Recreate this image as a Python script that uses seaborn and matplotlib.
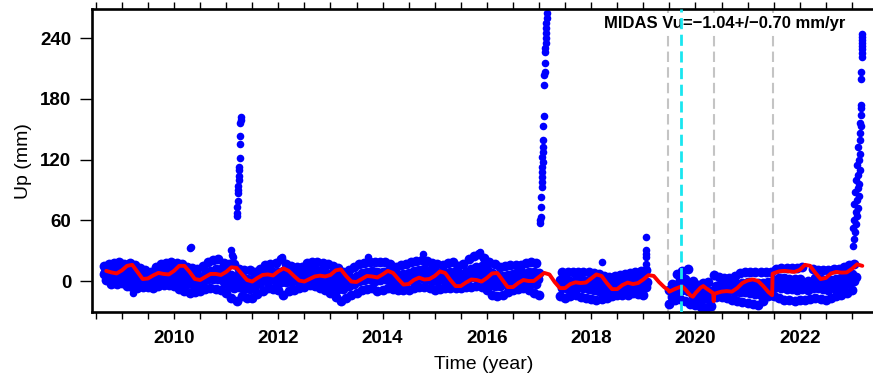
import numpy as np
import pandas as pd
import matplotlib
matplotlib.use("Agg")
import matplotlib.pyplot as plt
from matplotlib.ticker import MultipleLocator
import seaborn as sns

nan = np.nan

# Эпохи полосы: шаг 0.1 года от 2008.65 (ряды hi/ml), со сдвигом +0.05 (mh/lo), +0.025 (mid)
band_start = 2008.65

up_hi = [
    15, 17, 18, 19,                              # 2008
    17, 18, 16, 13, 11, 9, 14, 17, 18, 19,       # 2009
    18, 17, 14, 13, 12, 15, 19, 21, 22, 18,      # 2010
    17, 17, 12, 11, 11, 9, 12, 16, 17, 18,       # 2011
    22, 17, 15, 14, 14, 18, 19, 19, 18, 17,      # 2012
    15, 13, 9, 11, 14, 17, 18, 19, 19, 19,       # 2013
    19, 17, 14, 16, 17, 19, 20, 21, 20, 18,      # 2014
    17, 16, 18, 19, 15, 17, 22, 25, 27, 23,      # 2015
    19, 17, 14, 15, 16, 16, 16, 18, 19, 18,      # 2016
    nan, nan, nan, nan, 9, 9, 9, 9, 9, 9,        # 2017
    8, 7, 5, 4, 5, 6, 7, 8, 9, 10,               # 2018
    11, nan, nan, nan, nan, -3, 7, 10, 12, 0,    # 2019
    -4, -2, -1, 6, 4, 3, 3, 5, 8, 9,             # 2020
    9, 9, 9, 9, 9, 12, 13, 13, 13, 13,           # 2021
    14, 0, 12, 11, 11, 11, 12, 12, 14, 16,       # 2022
    17, nan,                                     # 2023
]

up_mh = [
    11, 11, 12, 12,
    10, 10, 9, 6, 5, 3, 8, 10, 11, 11,
    10, 8, 6, 5, 4, 7, 10, 12, 12, 9,
    6, 5, 3, 2, 2, 2, 5, 8, 9, 9,
    10, 8, 7, 7, 7, 10, 11, 10, 9, 7,
    5, 2, 0, 3, 5, 8, 9, 10, 9, 9,
    10, 8, 6, 7, 8, 10, 11, 12, 11, 9,
    8, 8, 9, 10, 7, 9, 12, 14, 15, 12,
    8, 6, 5, 6, 7, 8, 8, 9, 9, 8,
    nan, nan, nan, 1, 1, 0, 1, 1, 0, 0,
    -1, -2, -3, -3, -2, -1, 0, 1, 2, 2,
    nan, nan, nan, nan, -9, -4, 1, 2, -3, -9,
    -10, -10, -10, -5, -3, -3, -4, -3, -2, -1,
    -2, -2, -2, -1, 1, 3, 3, 2, 2, 2,
    -5, -6, 3, 2, 1, 1, 2, 3, 5, 7,
    nan, nan,
]

up_mid = [
    9, 7, 8, 8,
    6, 6, 5, 3, 2, 1, 4, 6, 7, 7,
    5, 3, 1, 1, 0, 3, 6, 7, 7, 4,
    0, -1, -1, -3, -3, -2, 1, 4, 5, 4,
    4, 3, 3, 3, 4, 6, 7, 6, 4, 2,
    0, -3, -4, -1, 1, 4, 5, 6, 4, 5,
    6, 4, 2, 3, 3, 5, 6, 7, 6, 4,
    4, 4, 5, 5, 3, 5, 7, 9, 9, 6,
    2, 0, 0, 1, 3, 4, 4, 4, 3, 2,
    nan, nan, nan, nan, -3, -4, -3, -2, -3, -4,
    -5, -6, -6, -6, -5, -4, -3, -2, -1, -1,
    -1, nan, nan, nan, nan, -12, -6, -4, -4, -9,
    -13, -14, -14, -10, -6, -6, -7, -7, -6, -6,
    -7, -7, -8, -6, -3, -1, -2, -3, -3, -3,
    -2, -7, -2, -2, -3, -4, -2, -1, 0, 2,
    4, nan,
]

up_ml = [
    7, 3, 4, 5,
    2, 2, 1, 0, -1, -2, 1, 3, 4, 3,
    1, -1, -3, -3, -3, -1, 2, 2, 2, -1,
    -5, -7, -6, -8, -8, -5, -2, 1, 1, 0,
    -1, -1, -1, 0, 1, 3, 3, 2, 0, -2,
    -5, -8, -8, -5, -3, 0, 1, 2, 0, 1,
    2, 0, -2, -1, -1, 1, 2, 3, 2, 0,
    0, 1, 1, 1, 0, 1, 3, 4, 4, 1,
    -3, -5, -5, -3, -1, 0, 1, 0, -2, -3,
    nan, nan, nan, nan, -7, -8, -7, -6, -7, -8,
    -9, -10, -10, -10, -8, -8, -7, -6, -5, -5,
    -6, nan, nan, nan, nan, -16, -11, -9, -10, -15,
    -17, -18, -18, -15, -10, -10, -10, -11, -11, -11,
    -12, -13, -14, -11, -7, -6, -7, -8, -8, -9,
    -8, -9, -7, -7, -8, -9, -7, -6, -5, -2,
    0, nan,
]

up_lo = [
    1, -3, -3, -2,
    -5, -6, -7, -6, -6, -7, -5, -4, -4, -5,
    -8, -10, -12, -11, -10, -8, -7, -8, -9, -12,
    -17, -20, -15, -17, -17, -13, -10, -7, -8, -9,
    -14, -10, -9, -7, -6, -4, -5, -7, -9, -12,
    -16, -20, -17, -14, -12, -9, -8, -7, -10, -9,
    -7, -8, -9, -9, -9, -7, -6, -6, -7, -9,
    -8, -7, -7, -7, -7, -6, -6, -5, -6, -9,
    -14, -15, -14, -11, -9, -8, -7, -9, -12, -14,
    nan, nan, nan, -15, -17, -15, -14, -16, -17, -18,
    -19, -18, -17, -15, -14, -14, -14, -12, -13, -14,
    nan, nan, nan, nan, -23, -19, -18, -20, -23, -24,
    -26, -27, -25, -16, -16, -17, -19, -20, -21, -22,
    -23, -24, -20, -15, -15, -17, -19, -19, -20, -19,
    -19, -18, -17, -18, -19, -17, -15, -14, -12, -9,
    nan, nan,
]

# Отдельные выбросы
out_t = [2009.22, 2010.30, 2010.32, 2011.10, 2011.12, 2011.13, 2012.08, 2013.72,
         2014.78, 2015.86, 2018.20, 2019.05, 2019.05, 2019.06, 2019.06, 2019.05]
out_u = [-12, 33, 34, 31, 26, 24, 24, 24, 27, 29, 19, 44, 31, 27, 24, 17]

# Всплески (снег на антенне)
spike_2011_t = [2011.20, 2011.20, 2011.21, 2011.22, 2011.22, 2011.23, 2011.23, 2011.24, 2011.24,
                2011.25, 2011.25, 2011.26, 2011.26, 2011.27, 2011.27, 2011.28, 2011.28]
spike_2011_u = [64, 67, 73, 79, 87, 90, 94, 100, 104, 110, 113, 122, 135, 143, 156, 159, 162]

spike_2017_t = [2017.02, 2017.02, 2017.03, 2017.03, 2017.04, 2017.05, 2017.05, 2017.06, 2017.05, 2017.06,
                2017.07, 2017.06, 2017.07, 2017.07, 2017.08, 2017.08, 2017.09, 2017.10, 2017.10, 2017.11,
                2017.11, 2017.12, 2017.12, 2017.13, 2017.13, 2017.14, 2017.14, 2017.14, 2017.15, 2017.15]
spike_2017_u = [57, 60, 63, 73, 83, 93, 98, 103, 108, 113, 118, 123, 128, 133, 139, 153, 163, 194, 204, 207,
                216, 226, 230, 235, 240, 245, 250, 255, 260, 265]

spike_2023_t = [2023.02, 2023.04, 2023.06, 2023.03, 2023.08, 2023.05, 2023.10, 2023.07, 2023.12, 2023.04,
                2023.09, 2023.13, 2023.06, 2023.11, 2023.14, 2023.08, 2023.12, 2023.15, 2023.10, 2023.14,
                2023.16, 2023.12, 2023.16, 2023.15, 2023.17, 2023.16, 2023.17, 2023.18, 2023.17, 2023.18,
                2023.18, 2023.19, 2023.19, 2023.19, 2023.20, 2023.19, 2023.20, 2023.20, 2023.20]
spike_2023_u = [35, 42, 48, 52, 56, 60, 64, 68, 72, 76, 80, 84, 88, 92, 96, 100, 105, 110, 115, 120,
                126, 133, 139, 146, 153, 156, 164, 171, 174, 200, 207, 222, 225, 229, 232, 235, 238, 241, 244]

# Модель (красная линия)
red_t = [2008.7, 2008.8, 2008.9,
         2009.0, 2009.1, 2009.2, 2009.3, 2009.4, 2009.5, 2009.6, 2009.7, 2009.8, 2009.9,
         2010.0, 2010.1, 2010.2, 2010.3, 2010.4, 2010.5, 2010.6, 2010.7, 2010.8, 2010.9,
         2011.0, 2011.1, 2011.2, 2011.3, 2011.4, 2011.5, 2011.6, 2011.7, 2011.8, 2011.9,
         2012.0, 2012.1, 2012.2, 2012.3, 2012.4, 2012.5, 2012.6, 2012.7, 2012.8, 2012.9,
         2013.0, 2013.1, 2013.2, 2013.3, 2013.4, 2013.5, 2013.6, 2013.7, 2013.8, 2013.9,
         2014.0, 2014.1, 2014.2, 2014.3, 2014.4, 2014.5, 2014.6, 2014.7, 2014.8, 2014.9,
         2015.0, 2015.1, 2015.2, 2015.3, 2015.4, 2015.5, 2015.6, 2015.7, 2015.8, 2015.9,
         2016.0, 2016.1, 2016.2, 2016.3, 2016.4, 2016.5, 2016.6, 2016.7, 2016.8, 2016.9,
         2017.0, 2017.1, 2017.2, 2017.3, 2017.4, 2017.5, 2017.6, 2017.7, 2017.8, 2017.9,
         2018.0, 2018.1, 2018.2, 2018.3, 2018.4, 2018.5, 2018.6, 2018.7, 2018.8, 2018.9,
         2019.0, 2019.1, 2019.2, 2019.3, 2019.4, 2019.48, 2019.5, 2019.6, 2019.7, 2019.75, 2019.8, 2019.9, 2019.95,
         2020.0, 2020.1, 2020.15, 2020.2, 2020.3, 2020.34, 2020.35, 2020.36, 2020.4, 2020.5, 2020.6, 2020.7, 2020.8, 2020.9,
         2021.0, 2021.1, 2021.2, 2021.3, 2021.4, 2021.47, 2021.48, 2021.6, 2021.7, 2021.8, 2021.9,
         2022.0, 2022.1, 2022.2, 2022.3, 2022.4, 2022.5, 2022.6, 2022.7, 2022.8, 2022.9,
         2023.0, 2023.1, 2023.2]
red_u = [10, 8.5, 7.5,
         10.5, 15, 16, 9, 2, 2.5, 5.5, 8, 7, 6.5,
         10, 15, 15, 9, 2, 1, 4, 7, 7, 6,
         9, 13.5, 13, 7, 1, -0.5, 3, 6, 6.5, 5.5,
         9.5, 12.5, 10, 5, 0.5, -0.5, 2, 4.5, 5.3, 4.5,
         6, 10.5, 11.5, 5, -0.5, -1, 2, 5, 4.5, 3.5,
         6.5, 10, 8, 2, -3.5, -3, 1, 3.3, 1.5, 2,
         5, 9.5, 8, 1, -5, -5, -1.5, 1.5, 1, -0.5,
         3, 7.5, 8, 1, -6, -6, -2, 1, 0, 0,
         4, 8, 6.5, -1, -7, -7, -3, -1.3, -2, -1.5,
         2.5, 6.5, 5, -2, -8, -8, -4, -1.6, -3, -2,
         1.5, 5.8, 5, -1, -6, -9, -10.5, -8, -6, -5.6, -8, -14, -15.5,
         -12, -6.5, -5, -7, -10.5, -12, -20, -13, -12, -10.5, -10, -10.5, -7, -2,
         0.5, 1.6, 0, -5, -11, -14, 7.3, 9.5, 10, 9.5, 9,
         11, 16, 15, 8, 2, 3, 7.5, 9, 8.3, 8.5,
         12, 16.5, 15]

offset_epochs = [2019.48, 2020.35, 2021.48]   # серые штриховые
equip_epoch = 2019.73                          # голубая штриховая

# Сборка таблиц точек: плотная полоса и отдельные точки
epochs = np.round(band_start + 0.1 * np.arange(len(up_hi)), 2)
band = pd.concat([
    pd.DataFrame({'t': epochs, 'up': up_hi}),
    pd.DataFrame({'t': epochs + 0.05, 'up': up_mh}),
    pd.DataFrame({'t': epochs + 0.025, 'up': up_mid}),
    pd.DataFrame({'t': epochs, 'up': up_ml}),
    pd.DataFrame({'t': epochs + 0.05, 'up': up_lo}),
], ignore_index=True).dropna()
single = pd.concat([
    pd.DataFrame({'t': out_t, 'up': out_u}),
    pd.DataFrame({'t': spike_2011_t, 'up': spike_2011_u}),
    pd.DataFrame({'t': spike_2017_t, 'up': spike_2017_u}),
    pd.DataFrame({'t': spike_2023_t, 'up': spike_2023_u}),
], ignore_index=True)

sns.set_style("ticks")
plt.rcParams['font.family'] = ['Liberation Sans', 'DejaVu Sans']
plt.rcParams.update({'axes.edgecolor': 'black', 'text.color': 'black',
                     'axes.labelcolor': 'black', 'xtick.color': 'black',
                     'ytick.color': 'black'})

fig = plt.figure(figsize=(8.73, 3.8), dpi=100)
ax = fig.add_axes([0.1057, 0.178, 0.897, 0.797])

for x in offset_epochs:
    ax.axvline(x, color='#c4c4c4', lw=1.5, ls=(0, (5, 2.5)), zorder=1)

sns.scatterplot(data=band, x='t', y='up', color='#0000ff', s=50, linewidth=0,
                legend=False, ax=ax, zorder=2)
sns.scatterplot(data=single, x='t', y='up', color='#0000ff', s=30, linewidth=0,
                legend=False, ax=ax, zorder=2)
sns.lineplot(x=red_t, y=red_u, color='#ff0000', lw=2.8, sort=False, estimator=None,
             ax=ax, zorder=3)

ax.text(0.8074, 0.955, 'MIDAS Vu=\u22121.04+/\u22120.70 mm/yr', transform=ax.transAxes,
        ha='center', va='center', fontsize=12, fontweight='bold',
        bbox=dict(facecolor='white', edgecolor='none', pad=2), zorder=4)

ax.axvline(equip_epoch, color='#19e6f0', lw=2, ls=(0, (4, 2)), zorder=5)

ax.set_xlim(2008.433, 2023.45)
ax.set_ylim(-31, 268.5)
ax.set_xticks(range(2010, 2023, 2))
ax.xaxis.set_minor_locator(MultipleLocator(0.5))
ax.set_yticks([0, 60, 120, 180, 240])

ax.tick_params(axis='x', which='both', direction='out', length=5, width=1,
               top=True, labeltop=False, pad=8, labelsize=13.5)
ax.tick_params(axis='y', which='major', direction='out', length=9, width=1,
               pad=6, labelsize=13.5)
for lbl in ax.get_xticklabels() + ax.get_yticklabels():
    lbl.set_fontweight('bold')

for sp in ax.spines.values():
    sp.set_linewidth(1.9)
    sp.set_color('black')

ax.set_xlabel('Time (year)', fontsize=14, labelpad=6)
ax.set_ylabel('Up (mm)', fontsize=14, labelpad=6)

fig.savefig('out.png', dpi=100)
